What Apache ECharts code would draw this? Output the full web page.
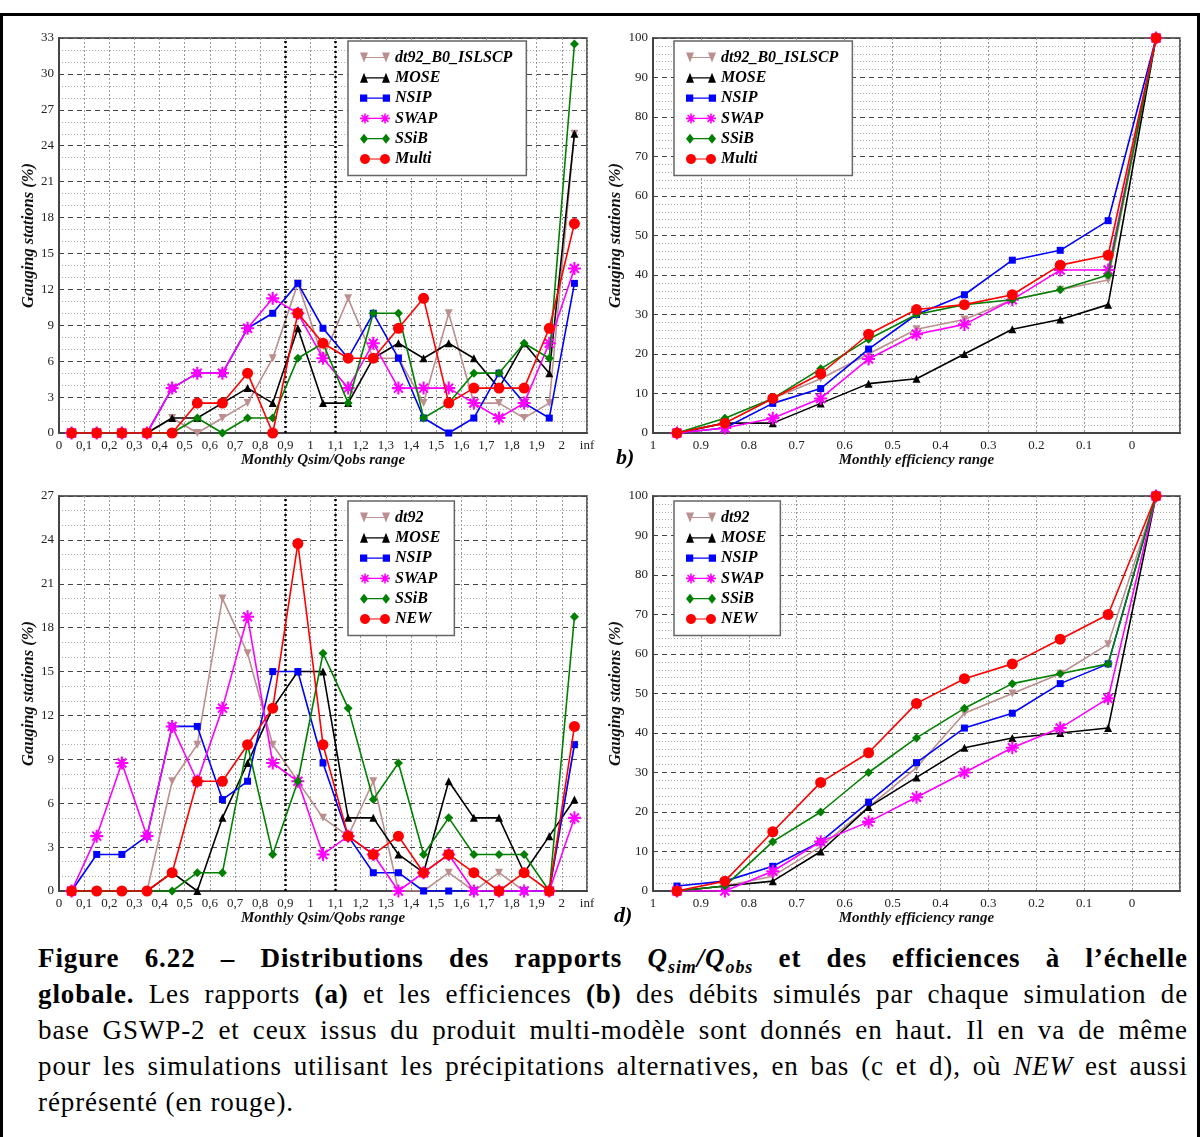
<!DOCTYPE html>
<html>
<head>
<meta charset="utf-8">
<script src="https://cdn.jsdelivr.net/npm/echarts@6/dist/echarts.min.js"></script>
<style>
html, body { margin: 0; padding: 0; background: #fff; }
#frame { position: absolute; left: 0; top: 13px; width: 1194px; height: 1130px; border: 3px solid #000; border-bottom: none; }
#chart { position: absolute; left: 0; top: 0; width: 1200px; height: 935px; }
#caption { position: absolute; left: 38px; top: 940px; width: 1150px; font-family: "Liberation Serif", serif; font-size: 27px; letter-spacing: 0.9px; line-height: 36px; color: #000; }
#caption div { text-align: justify; text-align-last: justify; height: 36px; }
#caption div.last { text-align: left; text-align-last: left; }
#caption sub { font-size: 18px; line-height: 0; }
</style>
</head>
<body>
<div id="frame"></div>
<div id="chart"></div>
<div id="caption">
<div><b>Figure 6.22 – Distributions des rapports <i>Q<sub>sim</sub>/Q<sub>obs</sub></i> et des efficiences à l’échelle</b></div>
<div><b>globale.</b> Les rapports <b>(a)</b> et les efficiences <b>(b)</b> des débits simulés par chaque simulation de</div>
<div>base GSWP-2 et ceux issus du produit multi-modèle sont donnés en haut. Il en va de même</div>
<div>pour les simulations utilisant les précipitations alternatives, en bas (c et d), où <i>NEW</i> est aussi</div>
<div class="last">réprésenté (en rouge).</div>
</div>
<script>
(function() {
	'use strict';

	// bin centres
	var qBins = [0.05, 0.15, 0.25, 0.35, 0.45, 0.55, 0.65, 0.75, 0.85, 0.95, 1.05,
		1.15, 1.25, 1.35, 1.45, 1.55, 1.65, 1.75, 1.85, 1.95, 2.05];
	var effBins = [0.95, 0.85, 0.75, 0.65, 0.55, 0.45, 0.35, 0.25, 0.15, 0.05, -0.05];

	// tick labels
	var qTickLabels = ['0', '0,1', '0,2', '0,3', '0,4', '0,5', '0,6', '0,7', '0,8', '0,9', '1',
		'1,1', '1,2', '1,3', '1,4', '1,5', '1,6', '1,7', '1,8', '1,9', '2', 'inf'];
	var effTickLabels = ['0', '0.1', '0.2', '0.3', '0.4', '0.5', '0.6', '0.7', '0.8', '0.9', '1'];

	var namesTop = ['dt92_B0_ISLSCP', 'MOSE', 'NSIP', 'SWAP', 'SSiB', 'Multi'];
	var namesBottom = ['dt92', 'MOSE', 'NSIP', 'SWAP', 'SSiB', 'NEW'];

	// (a) Qsim/Qobs, base simulations
	var aDt92 = [0, 0, 0, 0, 1.25, 0, 1.25, 2.5, 6.25, 12.5, 6.25, 11.25, 6.25, 6.25, 2.5, 10, 2.5, 2.5, 1.25, 2.5, 25];
	var aMose = [0, 0, 0, 0, 1.25, 1.25, 2.5, 3.75, 2.5, 8.75, 2.5, 2.5, 6.25, 7.5, 6.25, 7.5, 6.25, 3.75, 7.5, 5, 25];
	var aNsip = [0, 0, 0, 0, 3.75, 5, 5, 8.75, 10, 12.5, 8.75, 6.25, 10, 6.25, 1.25, 0, 1.25, 5, 2.5, 1.25, 12.5];
	var aSwap = [0, 0, 0, 0, 3.75, 5, 5, 8.75, 11.25, 10, 6.25, 3.75, 7.5, 3.75, 3.75, 3.75, 2.5, 1.25, 2.5, 7.5, 13.75];
	var aSsib = [0, 0, 0, 0, 0, 1.25, 0, 1.25, 1.25, 6.25, 7.5, 2.5, 10, 10, 1.25, 2.5, 5, 5, 7.5, 6.25, 32.5];
	var aMulti = [0, 0, 0, 0, 0, 2.5, 2.5, 5, 0, 10, 7.5, 6.25, 6.25, 8.75, 11.25, 2.5, 3.75, 3.75, 3.75, 8.75, 17.5];

	// (b) efficiency, base simulations (cumulative)
	var bDt92 = [0, 2.5, 8.75, 13.75, 20, 26.25, 28.75, 33.75, 36.25, 38.75, 100];
	var bMose = [0, 2.5, 2.5, 7.5, 12.5, 13.75, 20, 26.25, 28.75, 32.5, 100];
	var bNsip = [0, 1.25, 7.5, 11.25, 21.25, 30, 35, 43.75, 46.25, 53.75, 100];
	var bSwap = [0, 1.25, 3.75, 8.75, 18.75, 25, 27.5, 33.75, 41.25, 41.25, 100];
	var bSsib = [0, 3.75, 8.75, 16.25, 23.75, 30, 32.5, 33.75, 36.25, 40, 100];
	var bMulti = [0, 2.5, 8.75, 15, 25, 31.25, 32.5, 35, 42.5, 45, 100];

	// (c) Qsim/Qobs, alternative precipitation
	var cDt92 = [0, 0, 0, 0, 7.5, 10, 20, 16.25, 10, 7.5, 5, 3.75, 7.5, 0, 0, 1.25, 0, 1.25, 0, 0, 10];
	var cMose = [0, 0, 0, 0, 1.25, 0, 5, 8.75, 12.5, 15, 15, 5, 5, 2.5, 1.25, 7.5, 5, 5, 1.25, 3.75, 6.25];
	var cNsip = [0, 2.5, 2.5, 3.75, 11.25, 11.25, 6.25, 7.5, 15, 15, 8.75, 3.75, 1.25, 1.25, 0, 0, 0, 0, 0, 0, 10];
	var cSwap = [0, 3.75, 8.75, 3.75, 11.25, 7.5, 12.5, 18.75, 8.75, 7.5, 2.5, 3.75, 2.5, 0, 1.25, 2.5, 0, 0, 0, 0, 5];
	var cSsib = [0, 0, 0, 0, 0, 1.25, 1.25, 10, 2.5, 7.5, 16.25, 12.5, 6.25, 8.75, 2.5, 5, 2.5, 2.5, 2.5, 0, 18.75];
	var cNew = [0, 0, 0, 0, 1.25, 7.5, 7.5, 10, 12.5, 23.75, 10, 3.75, 2.5, 3.75, 1.25, 2.5, 1.25, 0, 1.25, 0, 11.25];

	// (d) efficiency, alternative precipitation (cumulative)
	var dDt92 = [0, 1.25, 3.75, 11.25, 21.25, 31.25, 45, 50, 55, 62.5, 100];
	var dMose = [0, 1.25, 2.5, 10, 21.25, 28.75, 36.25, 38.75, 40, 41.25, 100];
	var dNsip = [1.25, 2.5, 6.25, 12.5, 22.5, 32.5, 41.25, 45, 52.5, 57.5, 100];
	var dSwap = [0, 0, 5, 12.5, 17.5, 23.75, 30, 36.25, 41.25, 48.75, 100];
	var dSsib = [0, 1.25, 12.5, 20, 30, 38.75, 46.25, 52.5, 55, 57.5, 100];
	var dNew = [0, 2.5, 15, 27.5, 35, 47.5, 53.75, 57.5, 63.75, 70, 100];

	var serif = 'Liberation Serif';

	// marker shapes, in a 10x10 box
	var shapes = {
		down: [[[0, 0], [8, 0], [4, 10]]],
		up: [[[4, 0], [8, 10], [0, 10]]],
		square: [[[0, 1.5], [7, 1.5], [7, 8.5], [0, 8.5]]],
		star: [
			[[0, 4.2], [10, 4.2], [10, 5.8], [0, 5.8]],
			[[4.2, 0], [5.8, 0], [5.8, 10], [4.2, 10]],
			[[1, 2.1], [2.1, 1], [9, 7.9], [7.9, 9]],
			[[7.9, 1], [9, 2.1], [2.1, 9], [1, 7.9]]
		],
		diamond: [[[4, 0], [8, 5], [4, 10], [0, 5]]],
		circle: [(function() {
			var pts = [];
			for (var k = 0; k < 20; k++) {
				var t = k / 20 * Math.PI * 2;
				pts.push([5 + 5 * Math.cos(t), 5 + 5 * Math.sin(t)]);
			}
			return pts;
		}())]
	};

	var polyPath = function(polys, dx) {
		var s = '';
		for (var i = 0; i < polys.length; i++) {
			var p = polys[i];
			for (var j = 0; j < p.length; j++) {
				s += (j === 0 ? 'M' : 'L') + (p[j][0] + dx).toFixed(2) + ' ' + p[j][1].toFixed(2) + ' ';
			}
			s += 'Z ';
		}
		return s;
	};

	var legendIcon = function(shape) {
		var w = shape === 'star' || shape === 'circle' ? 10 : 8;
		return 'path://' + polyPath(shapes[shape], 0) + polyPath(shapes[shape], 30 - w) +
			'M' + (w / 2) + ' 4.4 L' + (30 - w / 2) + ' 4.4 L' + (30 - w / 2) + ' 5.6 L' + (w / 2) + ' 5.6 Z';
	};

	var styles = [
		{ color: '#bc8f8f', symbol: 'triangle', rotate: 180, size: 8, shape: 'down' },
		{ color: '#000000', symbol: 'triangle', rotate: 0, size: 8, shape: 'up' },
		{ color: '#0000ff', symbol: 'rect', rotate: 0, size: 7, shape: 'square' },
		{ color: '#ff00ff', symbol: 'path://' + polyPath(shapes.star, 0), rotate: 0, size: 13, shape: 'star' },
		{ color: '#008000', symbol: 'diamond', rotate: 0, size: 9, shape: 'diamond' },
		{ color: '#ff0000', symbol: 'circle', rotate: 0, size: 11, shape: 'circle' }
	];

	var pairs = function(xs, ys) {
		return xs.map(function(x, i) { return [x, ys[i]]; });
	};

	var series = [];
	var addPanel = function(idx, names, bins, sets, withLimits) {
		for (var i = 0; i < sets.length; i++) {
			var st = styles[i];
			var s = {
				type: 'line',
				name: names[i],
				xAxisIndex: idx,
				yAxisIndex: idx,
				data: pairs(bins, sets[i]),
				symbol: st.symbol,
				symbolSize: st.size,
				symbolRotate: st.rotate,
				showAllSymbol: true,
				color: st.color,
				itemStyle: { color: st.color },
				lineStyle: { color: st.color, width: 1.6 },
				z: 3 + i
			};
			if (withLimits && i === 0) {
				s.markLine = {
					silent: true,
					symbol: 'none',
					label: { show: false },
					lineStyle: { color: '#000', type: [2, 3], width: 2.5 },
					data: [{ xAxis: 0.9 }, { xAxis: 1.1 }]
				};
			}
			series.push(s);
		}
	};

	addPanel(0, namesTop, qBins, [aDt92, aMose, aNsip, aSwap, aSsib, aMulti], true);
	addPanel(1, namesTop, effBins, [bDt92, bMose, bNsip, bSwap, bSsib, bMulti], false);
	addPanel(2, namesBottom, qBins, [cDt92, cMose, cNsip, cSwap, cSsib, cNew], true);
	addPanel(3, namesBottom, effBins, [dDt92, dMose, dNsip, dSwap, dSsib, dNew], false);

	var grids = [
		{ left: 59, top: 38, width: 528, height: 395 },
		{ left: 653, top: 38, width: 527, height: 395 },
		{ left: 59, top: 496, width: 528, height: 395 },
		{ left: 653, top: 496, width: 527, height: 395 }
	].map(function(g) {
		g.show = true;
		g.borderColor = '#333';
		g.borderWidth = 1.5;
		g.backgroundColor = 'transparent';
		return g;
	});

	var nameStyle = { fontFamily: serif, fontWeight: 'bold', fontStyle: 'italic', fontSize: 15, color: '#111' };
	var yNameStyle = { fontFamily: serif, fontWeight: 'bold', fontStyle: 'italic', fontSize: 16.5, color: '#111' };
	var labelStyle = { fontFamily: serif, fontSize: 13, color: '#222' };

	var qAxis = function(idx) {
		return {
			type: 'value', gridIndex: idx, min: 0, max: 2.1, interval: 0.1,
			name: 'Monthly Qsim/Qobs range', nameLocation: 'middle', nameGap: 17,
			nameTextStyle: nameStyle,
			axisLine: { onZero: false, lineStyle: { color: '#444', width: 2 } },
			axisTick: { show: false },
			axisLabel: Object.assign({ margin: 6, showMaxLabel: true, formatter: function(v) {
				return qTickLabels[Math.round(v * 10)];
			} }, labelStyle),
			splitLine: { show: true, lineStyle: { color: '#999', type: [2, 2], width: 1 } }
		};
	};
	var effAxis = function(idx) {
		return {
			type: 'value', gridIndex: idx, min: -0.1, max: 1, interval: 0.1, inverse: true,
			name: 'Monthly efficiency range', nameLocation: 'middle', nameGap: 17,
			nameTextStyle: nameStyle,
			axisLine: { onZero: false, lineStyle: { color: '#444', width: 2 } },
			axisTick: { show: false },
			axisLabel: Object.assign({ margin: 6, formatter: function(v) {
				var i = Math.round(v * 10);
				return i >= 0 ? effTickLabels[i] : '';
			} }, labelStyle),
			splitLine: { show: true, lineStyle: { color: '#999', type: [2, 2], width: 1 } }
		};
	};
	var yAxis = function(idx, max, interval, minor) {
		return {
			type: 'value', gridIndex: idx, min: 0, max: max, interval: interval,
			name: 'Gauging stations (%)', nameLocation: 'middle', nameGap: 22,
			nameTextStyle: yNameStyle,
			axisLine: { show: true, onZero: false, lineStyle: { color: '#444', width: 2 } },
			axisTick: { show: false },
			axisLabel: Object.assign({ margin: 5 }, labelStyle),
			splitLine: { show: true, lineStyle: { color: '#444', type: [5, 4], width: 1.2 } },
			minorTick: { show: false, splitNumber: minor },
			minorSplitLine: { show: true, lineStyle: { color: '#aaa', type: [1, 2], width: 1 } }
		};
	};

	var legend = function(names, left, top) {
		return {
			orient: 'vertical', left: left, top: top,
			data: names.map(function(n, i) { return { name: n, icon: legendIcon(styles[i].shape) }; }),
			itemWidth: 30, itemHeight: 10, itemGap: 3.3,
			padding: [8, 14, 8, 12],
			backgroundColor: '#fff', borderColor: '#666', borderWidth: 1.5,
			textStyle: { fontFamily: serif, fontWeight: 'bold', fontStyle: 'italic', fontSize: 16, color: '#000', lineHeight: 17 },
			selectedMode: false
		};
	};

	var chart = echarts.init(document.getElementById('chart'), null, { renderer: 'canvas' });
	chart.setOption({
		animation: false,
		textStyle: { fontFamily: serif },
		grid: grids,
		xAxis: [qAxis(0), effAxis(1), qAxis(2), effAxis(3)],
		yAxis: [yAxis(0, 33, 3, 3), yAxis(1, 100, 10, 5), yAxis(2, 27, 3, 3), yAxis(3, 100, 10, 5)],
		legend: [
			legend(namesTop, 348, 41),
			legend(namesTop, 674, 41),
			legend(namesBottom, 348, 501),
			legend(namesBottom, 674, 501)
		],
		graphic: [
			{ type: 'text', left: 616, top: 447, style: { text: 'b)', font: 'italic bold 22px ' + serif, fill: '#000' } },
			{ type: 'text', left: 614, top: 905, style: { text: 'd)', font: 'italic bold 22px ' + serif, fill: '#000' } }
		],
		series: series
	});
}());
</script>
</body>
</html>
